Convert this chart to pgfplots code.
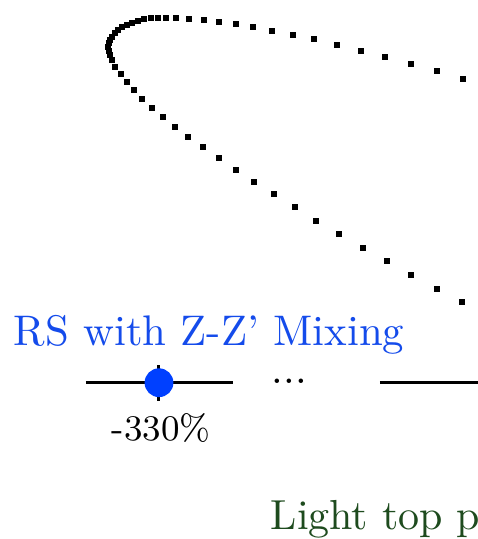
\documentclass[border=0pt]{standalone}
\usepackage{pgfplots}
\usepackage{pgfplotstable}
\pgfplotsset{compat=1.18}

\definecolor{rsblue}{RGB}{20,75,235}
\definecolor{dotblue}{RGB}{0,64,255}
\definecolor{topgreen}{RGB}{30,75,30}

% allowed region traced as a dotted contour (canvas units)
\pgfplotstableread{
x y
463 79
437 71
411 64
385 57
361 51
337 45
314 39
293 35
272 31
253 27
236 24
219 22
204 20
189 19
176 18
166 17.5
158.5 17.7
151.5 18.3
144.5 19.3
138 21
132 22.7
127 25
122.5 27.3
118.5 30
115 33.3
112.3 36.7
110.3 40
109 43.3
108.3 46.7
108.8 50.5
110 54.5
112 60
115 67
121 74
127 82
134 90
142 99
152 108
163 117
175 127
188 137
203 147
219 158
236 170
254 182
274 194
295 207
316 221
339 234
363 248
387 261
411 275
437 289
462 302
}\contour

\begin{document}
\begin{tikzpicture}
\begin{scope}
\clip (0,0) rectangle (119.5pt,134.75pt);
\begin{axis}[
  at={(0,0)}, anchor=south west,
  scale only axis, width=119.5pt, height=134.75pt,
  xmin=0, xmax=478, ymin=0, ymax=539, y dir=reverse,
  hide axis, clip=false]
  % contour
  \addplot[only marks, mark=square*, mark size=0.55pt, black] table {\contour};
  % scale bar segments
  \addplot[black, line width=0.67pt] coordinates {(86,382.7) (232.7,382.7)};
  \addplot[black, line width=0.67pt] coordinates {(380,382.5) (478,382.5)};
  \addplot[black, line width=0.75pt] coordinates {(159,365) (159,401)};
  \addplot[only marks, mark=*, mark size=3.4pt, dotblue] coordinates {(159,382.7)};
  % labels
  \node[anchor=base west, inner sep=0pt, text=rsblue, font=\fontsize{10.7}{12}\selectfont]
    at (axis cs:13,345) {RS with Z-Z' Mixing};
  \node[anchor=base, inner sep=0pt, font=\fontsize{9}{11}\selectfont]
    at (axis cs:161,440) {-330\%};
  \node[anchor=base west, inner sep=0pt, font=\fontsize{10.5}{12}\selectfont]
    at (axis cs:271,383) {...};
  \node[anchor=base west, inner sep=0pt, text=topgreen, font=\fontsize{10.5}{12}\selectfont]
    at (axis cs:270,529) {Light top partners};
\end{axis}
\end{scope}
\pgfresetboundingbox
\useasboundingbox (0,0) rectangle (119.5pt,134.75pt);
\end{tikzpicture}
\end{document}
